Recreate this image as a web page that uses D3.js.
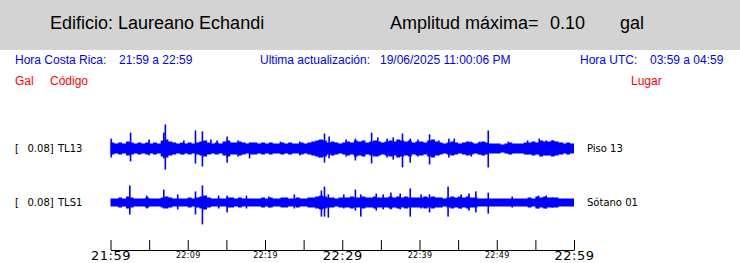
<!DOCTYPE html>
<html>
<head>
<meta charset="utf-8">
<script src="https://cdn.jsdelivr.net/npm/d3@7"></script>
<style>
  body { margin: 0; background: #fff; }
  svg { display: block; }
</style>
</head>
<body>
<div id="chart"></div>
<script>
var width = 740, height = 263;

// header texts
var building = "Edificio: Laureano Echandi";
var maxAmp = "0.10";
var localRange = "21:59 a 22:59";
var utcRange = "03:59 a 04:59";
var updated = "19/06/2025 11:00:06 PM";

// stations
var codes = ["TL13", "TLS1"];
var places = ["Piso 13", "Sótano 01"];
var scales = [0.08, 0.08];

// envelope amplitude (gal), one value per half minute
var tl13Amp = [
  0.020, 0.017, 0.020, 0.017, 0.023, 0.020, 0.017, 0.020, 0.017, 0.020,
  0.017, 0.020, 0.017, 0.027, 0.030, 0.023, 0.020, 0.017, 0.020, 0.017,
  0.020, 0.017, 0.020, 0.023, 0.027, 0.020, 0.017, 0.020, 0.017, 0.023,
  0.027, 0.020, 0.020, 0.023, 0.020, 0.017, 0.020, 0.020, 0.017, 0.020,
  0.017, 0.020, 0.017, 0.017, 0.020, 0.017, 0.020, 0.017, 0.017, 0.020,
  0.017, 0.020, 0.023, 0.027, 0.030, 0.027, 0.020, 0.023, 0.020, 0.017,
  0.020, 0.023, 0.020, 0.027, 0.023, 0.027, 0.020, 0.023, 0.027, 0.023,
  0.020, 0.023, 0.027, 0.023, 0.030, 0.027, 0.023, 0.027, 0.020, 0.023,
  0.023, 0.020, 0.027, 0.030, 0.023, 0.020, 0.017, 0.020, 0.023, 0.020,
  0.017, 0.020, 0.023, 0.020, 0.017, 0.020, 0.023, 0.020, 0.017, 0.017,
  0.017, 0.013, 0.017, 0.020, 0.017, 0.017, 0.017, 0.020, 0.020, 0.023,
  0.020, 0.027, 0.023, 0.023, 0.027, 0.023, 0.020, 0.017, 0.020, 0.017
];
var tls1Amp = [
  0.013, 0.013, 0.017, 0.013, 0.020, 0.017, 0.013, 0.013, 0.013, 0.017,
  0.013, 0.013, 0.013, 0.017, 0.020, 0.017, 0.013, 0.013, 0.013, 0.013,
  0.017, 0.013, 0.017, 0.020, 0.023, 0.017, 0.013, 0.013, 0.013, 0.013,
  0.017, 0.017, 0.013, 0.017, 0.013, 0.013, 0.013, 0.013, 0.013, 0.017,
  0.013, 0.017, 0.013, 0.013, 0.017, 0.017, 0.013, 0.013, 0.017, 0.013,
  0.013, 0.017, 0.017, 0.020, 0.023, 0.020, 0.017, 0.017, 0.013, 0.017,
  0.017, 0.017, 0.020, 0.017, 0.017, 0.020, 0.017, 0.017, 0.020, 0.017,
  0.017, 0.017, 0.020, 0.017, 0.020, 0.017, 0.020, 0.017, 0.017, 0.017,
  0.017, 0.020, 0.017, 0.020, 0.017, 0.017, 0.013, 0.017, 0.020, 0.017,
  0.020, 0.017, 0.020, 0.017, 0.017, 0.013, 0.013, 0.013, 0.013, 0.013,
  0.013, 0.013, 0.013, 0.013, 0.013, 0.013, 0.013, 0.013, 0.017, 0.013,
  0.020, 0.017, 0.020, 0.017, 0.017, 0.017, 0.013, 0.013, 0.013, 0.013
];

// spikes: [minute after 21:59, up (gal), down (gal)]
var tl13Spikes = [
  [0.1, 0.033, 0.030], [2.6, 0.053, 0.043], [5.0, 0.030, 0.023], [6.9, 0.053, 0.033],
  [7.1, 0.080, 0.070], [9.5, 0.027, 0.020], [11.0, 0.060, 0.050], [11.9, 0.057, 0.060],
  [13.0, 0.030, 0.017], [13.8, 0.027, 0.017], [15.1, 0.040, 0.047], [16.5, 0.027, 0.027],
  [18.0, 0.020, 0.033], [22.0, 0.023, 0.017], [24.5, 0.023, 0.023], [27.0, 0.027, 0.030],
  [27.7, 0.050, 0.047], [28.3, 0.040, 0.033], [30.5, 0.030, 0.027], [31.7, 0.033, 0.040],
  [33.8, 0.053, 0.050], [34.6, 0.037, 0.027], [35.8, 0.033, 0.030], [36.6, 0.037, 0.037],
  [37.8, 0.050, 0.063], [38.8, 0.033, 0.047], [39.8, 0.030, 0.027], [41.3, 0.047, 0.053],
  [42.5, 0.027, 0.023], [43.8, 0.033, 0.030], [44.5, 0.033, 0.020], [46.7, 0.023, 0.027],
  [47.8, 0.023, 0.020], [48.9, 0.060, 0.063], [51.5, 0.023, 0.017], [54.0, 0.027, 0.020],
  [55.5, 0.033, 0.020], [56.4, 0.027, 0.023], [57.2, 0.027, 0.020], [58.5, 0.020, 0.020]
];
var tls1Spikes = [
  [2.5, 0.057, 0.040], [4.7, 0.023, 0.020], [6.9, 0.043, 0.020], [8.7, 0.027, 0.023],
  [11.0, 0.037, 0.040], [11.9, 0.057, 0.073], [14.0, 0.023, 0.020], [15.1, 0.023, 0.033],
  [17.6, 0.023, 0.020], [20.5, 0.020, 0.017], [23.8, 0.027, 0.020], [27.3, 0.040, 0.047],
  [27.7, 0.053, 0.047], [28.2, 0.027, 0.050], [30.2, 0.027, 0.020], [31.7, 0.043, 0.027],
  [32.4, 0.027, 0.047], [34.4, 0.030, 0.027], [35.3, 0.027, 0.023], [36.3, 0.033, 0.023],
  [37.5, 0.030, 0.023], [38.8, 0.047, 0.047], [40.2, 0.027, 0.020], [41.3, 0.027, 0.033],
  [43.7, 0.053, 0.047], [45.4, 0.027, 0.020], [46.4, 0.030, 0.027], [47.3, 0.037, 0.033],
  [48.9, 0.033, 0.037], [52.0, 0.020, 0.017], [55.4, 0.023, 0.020], [56.4, 0.023, 0.020],
  [57.2, 0.017, 0.017]
];

// ticks every 5 minutes, labels every 10
var tickMinutes = [0, 5, 10, 15, 20, 25, 30, 35, 40, 45, 50, 55, 60];
var bigTicks = [0, 30, 60];

var amps = [tl13Amp, tls1Amp];
var spikes = [tl13Spikes, tls1Spikes];
var centers = [148.5, 202.5];

var svg = d3.select("#chart")
  .append("svg")
  .attr("width", width)
  .attr("height", height);

// gray header band
svg.append("rect")
  .attr("width", width)
  .attr("height", 50)
  .attr("fill", "#d3d3d3");

var head = svg.append("g")
  .style("font-family", "'Liberation Sans', Arial, sans-serif")
  .style("font-size", "18px")
  .attr("fill", "#000");
head.append("text").attr("x", 50).attr("y", 29).text(building);
head.append("text").attr("x", 390).attr("y", 29).text("Amplitud máxima=");
head.append("text").attr("x", 550).attr("y", 29).text(maxAmp);
head.append("text").attr("x", 620).attr("y", 29).text("gal");

var info = svg.append("g")
  .style("font-family", "'Liberation Sans', Arial, sans-serif")
  .style("font-size", "12px")
  .attr("fill", "#0000ff");
info.append("text").attr("x", 15).attr("y", 64).text("Hora Costa Rica:");
info.append("text").attr("x", 119).attr("y", 64).text(localRange);
info.append("text").attr("x", 260).attr("y", 64).text("Ultima actualización:");
info.append("text").attr("x", 380).attr("y", 64).text(updated);
info.append("text").attr("x", 580).attr("y", 64).text("Hora UTC:");
info.append("text").attr("x", 650).attr("y", 64).text(utcRange);

var cols = svg.append("g")
  .style("font-family", "'Liberation Sans', Arial, sans-serif")
  .style("font-size", "12px")
  .attr("fill", "#ff0000");
cols.append("text").attr("x", 15).attr("y", 85).text("Gal");
cols.append("text").attr("x", 50).attr("y", 85).text("Código");
cols.append("text").attr("x", 631).attr("y", 85).text("Lugar");

// time scale in minutes after 21:59
var x = d3.scaleLinear()
  .domain([0, 60])
  .range([110.5, 574]);

codes.forEach(function(code, k) {
  var yc = centers[k];
  var y = d3.scaleLinear()
    .domain([-0.08, 0.08])
    .range([yc + 24, yc - 24]);

  var pts = amps[k].map(function(a, i) { return {t: i * 0.5, a: a}; });
  pts.push({t: 60, a: amps[k][amps[k].length - 1]});

  var area = d3.area()
    .curve(d3.curveStepAfter)
    .x(function(d) { return x(d.t); })
    .y0(function(d) { return y(-d.a); })
    .y1(function(d) { return y(d.a); });

  svg.append("path")
    .datum(pts)
    .attr("d", area)
    .attr("fill", "#0000ff");

  svg.selectAll(".spike" + k)
    .data(spikes[k])
    .enter().append("rect")
    .attr("class", "spike" + k)
    .attr("x", function(d) { return x(d[0]) - 0.8; })
    .attr("width", 1.6)
    .attr("y", function(d) { return y(d[1]); })
    .attr("height", function(d) { return y(-d[2]) - y(d[1]); })
    .attr("fill", "#0000ff");

  var lab = svg.append("g")
    .style("font-family", "'DejaVu Sans', sans-serif")
    .style("font-size", "10px")
    .attr("fill", "#000");
  lab.append("text").attr("x", 15).attr("y", yc + 3.5).text("[");
  lab.append("text").attr("x", 27.5).attr("y", yc + 3.5).text(scales[k].toFixed(2) + "]");
  lab.append("text").attr("x", 58).attr("y", yc + 3.5).text(code);
  lab.append("text").attr("x", 587).attr("y", yc + 3.5).text(places[k]);
});

// time axis
function fmt(m) {
  var tot = 21 * 60 + 59 + m;
  var h = Math.floor(tot / 60), mm = tot % 60;
  return h + ":" + (mm < 10 ? "0" : "") + mm;
}

var axis = d3.axisBottom(x)
  .tickValues(tickMinutes)
  .tickSizeInner(-10)
  .tickSizeOuter(0)
  .tickPadding(0)
  .tickFormat(function(m) { return m % 10 === 0 ? fmt(m) : ""; });

var gx = svg.append("g")
  .attr("transform", "translate(0,250)")
  .call(axis);

gx.select(".domain").attr("stroke", "#000").attr("stroke-width", 1);
gx.selectAll(".tick line").attr("stroke", "#000");
gx.selectAll(".tick text")
  .attr("fill", "#000")
  .attr("dy", null)
  .style("font-family", "'DejaVu Sans', sans-serif")
  .attr("y", function(m) { return bigTicks.indexOf(m) >= 0 ? 10 : 7.5; })
  .style("font-size", function(m) { return bigTicks.indexOf(m) >= 0 ? "13px" : "8px"; })
  .style("letter-spacing", function(m) { return bigTicks.indexOf(m) >= 0 ? "0.5px" : "0.3px"; });
</script>
</body>
</html>
